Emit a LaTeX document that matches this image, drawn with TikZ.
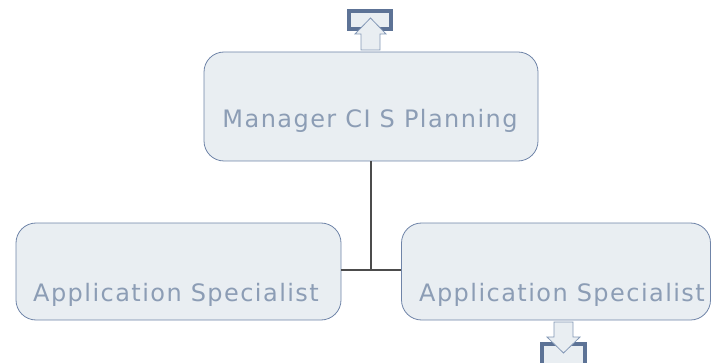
\documentclass[tikz,border=0pt]{standalone}
\usepackage{fontspec}
\setmainfont{DejaVu Sans}
\newfontfamily\labelfont[LetterSpace=6]{DejaVu Sans}
\definecolor{boxfill}{HTML}{E9EEF2}
\definecolor{boxline}{HTML}{6F84A8}
\definecolor{boxtext}{HTML}{8C9DB5}
\definecolor{iconline}{HTML}{5D7396}
\definecolor{arrline}{HTML}{8398B6}
\tikzset{
  box/.style={draw=boxline, fill=boxfill, rounded corners=20pt, line width=0.8pt, inner sep=0pt},
  boxlabel/.style={text=boxtext, font=\labelfont\fontsize{24}{28}\selectfont, inner sep=0pt},
  conn/.style={draw=black!70, line width=1.3pt},
  icon/.style={draw=iconline, fill=boxfill, line width=3.5pt},
  bigarrow/.style={draw=arrline, fill=boxfill, line width=0.8pt, line join=miter}
}
\begin{document}
\begin{tikzpicture}[x=1pt, y=-1pt]
\useasboundingbox (0,0) rectangle (711,363);
% boxes
\node[box, minimum width=334pt, minimum height=109pt] (mgr) at (371,106.5) {};
\node[box, minimum width=325pt, minimum height=97pt] (specl) at (178.5,271.5) {};
\node[box, minimum width=309pt, minimum height=97pt] (specr) at (556,271.5) {};
\node[boxlabel] (mgrlabel) at (370,121) {Manager CI S Planning};
\node[boxlabel] (speclabel) at (176,295) {Application Specialist};
\node[boxlabel] (specrlabel) at (562,295) {Application Specialist};
% connectors
\coordinate (join) at (371,270);
\draw[conn] (mgr.south) -- (join);
\draw[conn] (specl.east |- join) -- (specr.west |- join);
% up icon
\draw[icon] (349,11) rectangle (391,29);
\draw[bigarrow] (361,50) -- (361,34) -- (355,34) -- (370.5,18) -- (386,34) -- (380,34) -- (380,50) -- cycle;
% down icon
\draw[icon] (542,344) rectangle (585,366);
\draw[bigarrow] (554,322) -- (554,337) -- (547,337) -- (563.5,353) -- (580,337) -- (573,337) -- (573,322) -- cycle;
\end{tikzpicture}
\end{document}
